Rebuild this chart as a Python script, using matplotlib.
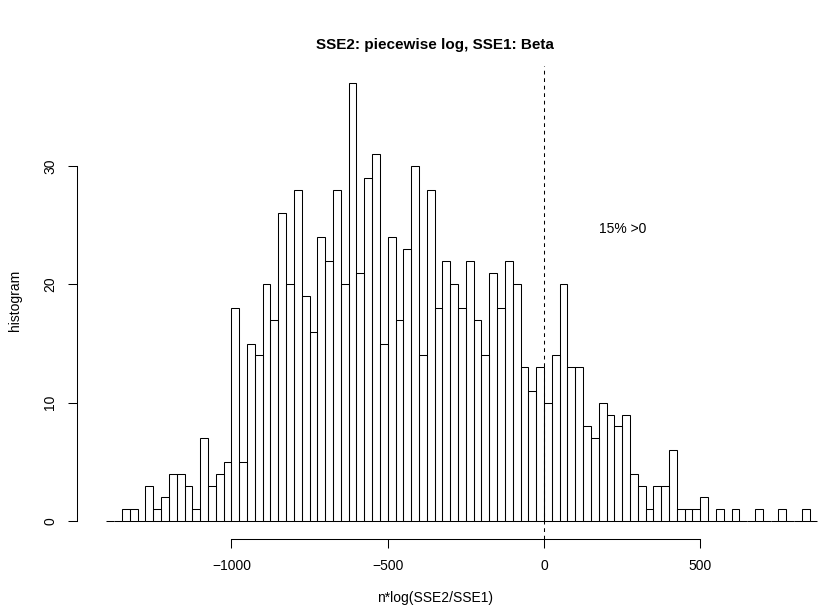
import matplotlib
matplotlib.use("Agg")
import matplotlib.pyplot as plt
import numpy as np

plt.rcParams['font.family'] = ['Liberation Sans', 'DejaVu Sans']

# histogram bins (left edges, width 25) and counts
bin_start = -1400
bin_width = 25
counts = [0, 0, 1, 1, 0, 3, 1, 2, 4, 4, 3, 1, 7, 3, 4, 5,          # -1400 .. -1025
          18, 5, 15, 14, 20, 17, 26, 20, 28, 19, 16, 24, 22, 28, 20,  # -1000 .. -650
          37, 21, 29, 31, 15, 24, 17, 23, 30, 14, 28, 18, 22, 20,     # -625 .. -300
          18, 22, 17, 14, 21, 18, 22, 20, 13, 11, 13,                 # -275 .. -25
          10, 14, 20, 13, 13, 8, 7, 10, 9, 8, 9, 4, 3, 1, 3, 3, 6,    # 0 .. 400
          1, 1, 1, 2, 0, 1, 0, 1, 0, 0, 1, 0, 0, 1, 0, 0, 1, 0]       # 425 .. 850
x_ticks = [-1000, -500, 0, 500]
y_ticks = [0, 10, 20, 30]
title = "SSE2: piecewise log, SSE1: Beta"
annot = "15% >0"

W, H = 820, 614
fig = plt.figure(figsize=(W / 100, H / 100), dpi=100)

# plot region in pixels (R style usr region, slightly past the right edge)
left_px, right_px, top_px, bot_px = 77.3, 820, 65.8, 538.5
ax = fig.add_axes([left_px / W, 1 - bot_px / H,
                   (right_px - left_px) / W, (bot_px - top_px) / H])
ax.set_xlim(-1493, 883)
ax.set_ylim(-1.48, 38.48)

edges = bin_start + bin_width * np.arange(len(counts))
ax.bar(edges, counts, width=bin_width, align='edge', fill=False,
       edgecolor='black', linewidth=0.75)

ax.axvline(0, color='black', linewidth=0.75, linestyle=(0, (3.6, 3.6)))
ax.text(252, 24.7, annot, ha='center', va='center', fontsize=10)

for s in ['top', 'right']:
    ax.spines[s].set_visible(False)
ax.spines['left'].set_bounds(0, 30)
ax.spines['bottom'].set_bounds(-1000, 500)
for s in ['left', 'bottom']:
    ax.spines[s].set_linewidth(0.75)
ax.set_xticks(x_ticks)
ax.set_xticklabels([str(v).replace('-', '\u2212') for v in x_ticks])
ax.set_yticks(y_ticks)
ax.set_yticklabels([str(v) for v in y_ticks], rotation=90, va='center')
ax.tick_params(direction='out', length=6.5, width=0.75, labelsize=10, pad=8)

fig.text(435 / W, 1 - 45 / H, title, ha='center', va='center',
         fontsize=11, fontweight='bold')
fig.text(435 / W, 1 - 598 / H, "n*log(SSE2/SSE1)", ha='center',
         va='center', fontsize=10)
fig.text(15 / W, 1 - 300 / H, "histogram", ha='center', va='center',
         rotation=90, fontsize=10)

fig.savefig("out.png", dpi=100)
